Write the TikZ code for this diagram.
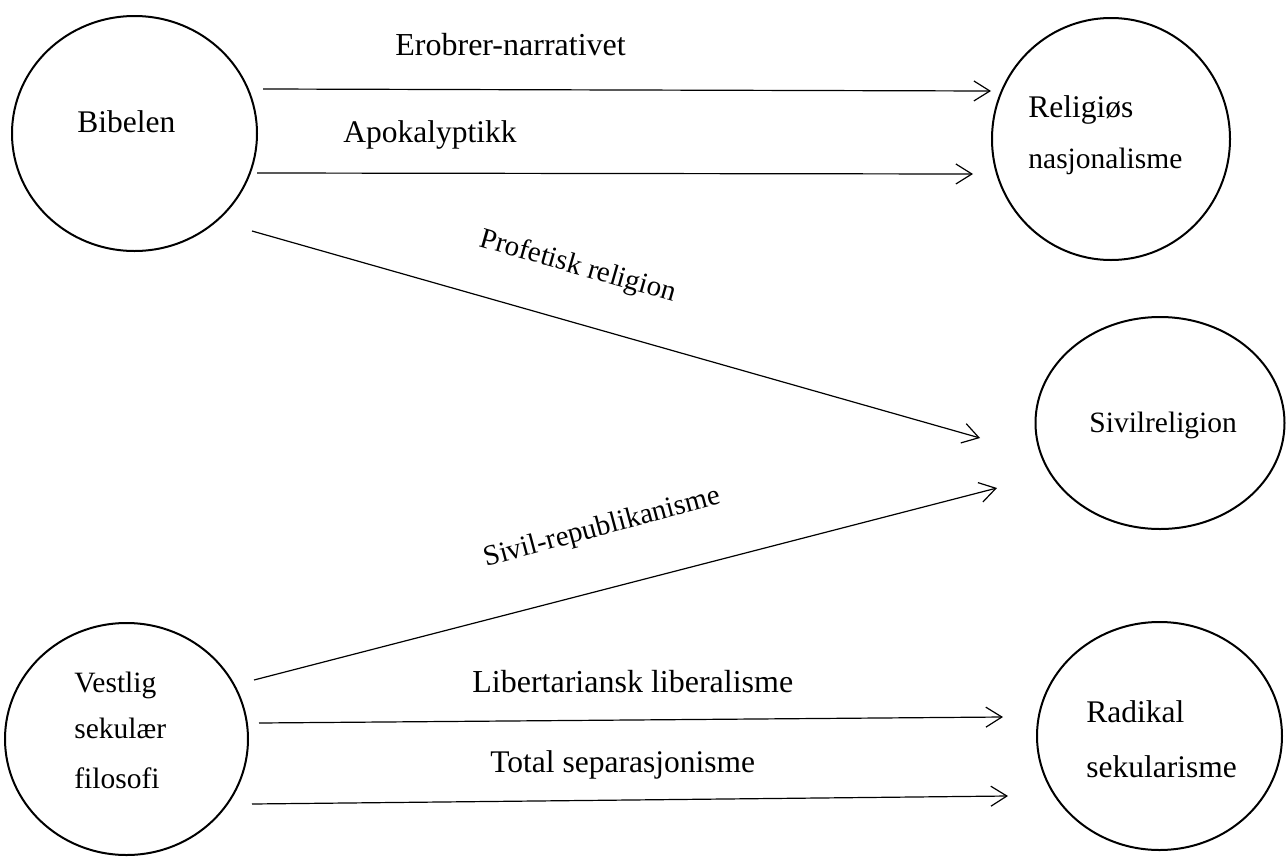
\documentclass[tikz,border=0pt]{standalone}
\usepackage{fontspec}
\setmainfont{Liberation Serif}
\usetikzlibrary{shapes.geometric,arrows.meta}
\begin{document}
\begin{tikzpicture}[x=0.5pt,y=-0.5pt]
\tikzstyle{ring}=[draw,ellipse,line width=1pt,inner sep=0pt,outer sep=0pt]
\tikzstyle{fleche}=[line width=0.6pt,-{Straight Barb[length=8pt,width=10pt,line width=0.6pt]}]
\tikzstyle{txt}=[inner sep=0pt,anchor=base west,font=\fontsize{15.75}{18}\selectfont]
\tikzstyle{petit}=[font=\fontsize{14.75}{17}\selectfont]
\useasboundingbox (0,0) rectangle (1286,857);
% cercles
\node[ring,minimum width=122.5pt,minimum height=117.5pt] (bib) at (134.5,133.5) {};
\node[ring,minimum width=119pt,minimum height=121pt] (rel) at (1111,139) {};
\node[ring,minimum width=124.5pt,minimum height=106pt] (siv) at (1160,423) {};
\node[ring,minimum width=121.5pt,minimum height=116pt] (ves) at (126.5,739) {};
\node[ring,minimum width=122.5pt,minimum height=114pt] (rad) at (1159.5,736) {};
\node[txt] (bibt) at (77,132) {Bibelen};
\node[txt] (relt1) at (1028,117) {Religiøs};
\node[txt,petit] (relt2) at (1028,168) {nasjonalisme};
\node[txt,petit] (sivt) at (1089,432) {Sivilreligion};
\node[txt,petit] (vest1) at (74,692) {Vestlig};
\node[txt,petit] (vest2) at (74,738) {sekulær};
\node[txt,petit] (vest3) at (74,788) {filosofi};
\node[txt] (radt1) at (1086,722) {Radikal};
\node[txt] (radt2) at (1086,777) {sekularisme};
% piler
\coordinate (a1) at (263,89);   \coordinate (b1) at (991,91);
\coordinate (a2) at (257,173);  \coordinate (b2) at (973,174);
\coordinate (a3) at (252,231);  \coordinate (b3) at (980,438);
\coordinate (a4) at (254,680);  \coordinate (b4) at (997,488);
\coordinate (a5) at (259,723);  \coordinate (b5) at (1003,717);
\coordinate (a6) at (252,804);  \coordinate (b6) at (1008,796);
\draw[fleche] (a1) -- (b1);
\draw[fleche] (a2) -- (b2);
\draw[fleche] (a3) -- (b3);
\draw[fleche] (a4) -- (b4);
\draw[fleche] (a5) -- (b5);
\draw[fleche] (a6) -- (b6);
\node[txt,font=\fontsize{16}{18}\selectfont] (l1) at (395,55) {Erobrer-narrativet};
\node[txt] (l2) at (343,142) {Apokalyptikk};
\node[txt,font=\fontsize{14.5}{17}\selectfont,anchor=base,rotate=-16] (l3) at (576,274) {Profetisk religion};
\node[txt,font=\fontsize{14.5}{17}\selectfont,anchor=base,rotate=15] (l4) at (604,535) {Sivil-republikanisme};
\node[txt,font=\fontsize{16}{18}\selectfont] (l5) at (472,692) {Libertariansk liberalisme};
\node[txt] (l6) at (490,772) {Total separasjonisme};
\end{tikzpicture}
\end{document}
